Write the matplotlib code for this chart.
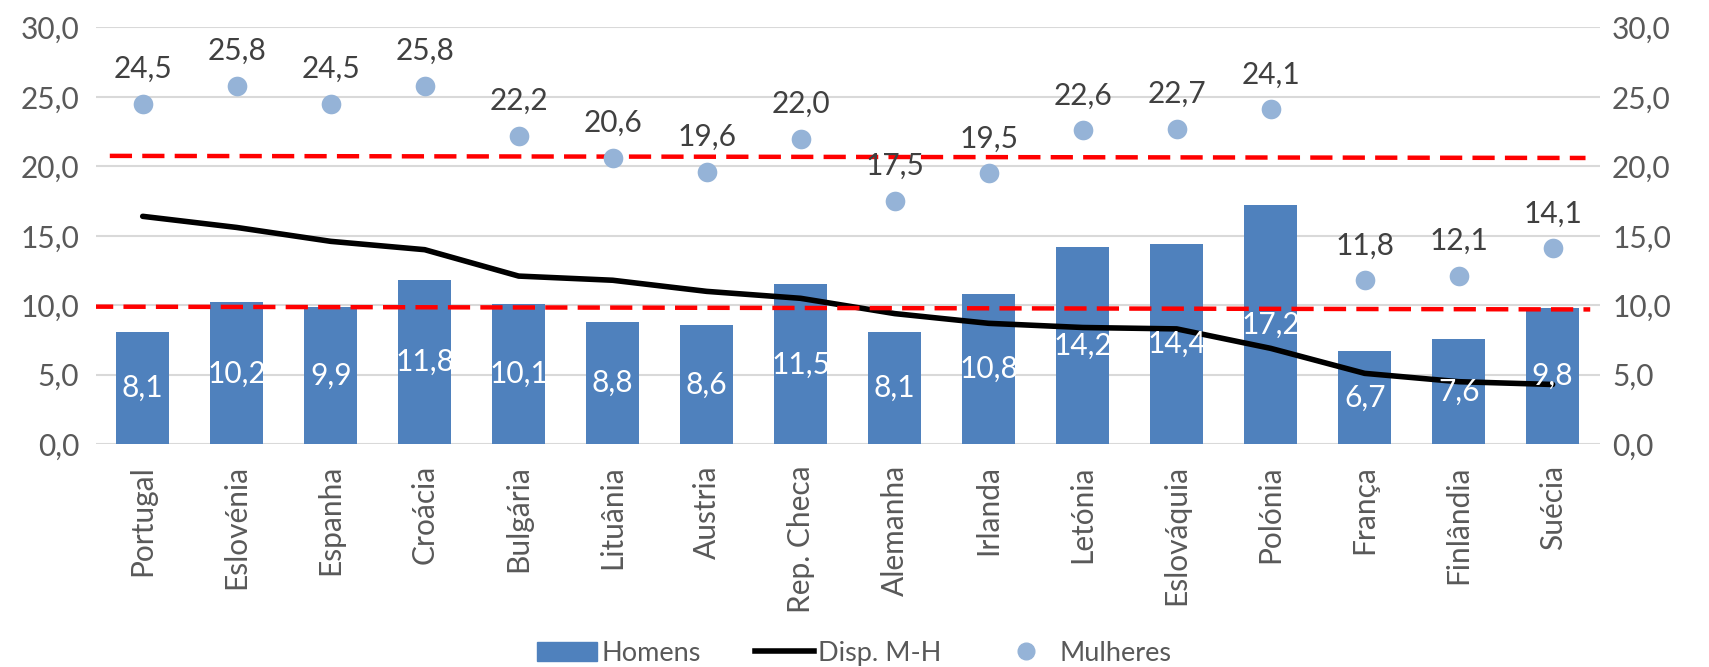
import matplotlib.pyplot as plt
from matplotlib.ticker import FuncFormatter, MultipleLocator
from matplotlib.lines import Line2D
from matplotlib.patches import Patch

# dados
paises = ['Portugal', 'Eslovénia', 'Espanha', 'Croácia', 'Bulgária', 'Lituânia',
          'Austria', 'Rep. Checa', 'Alemanha', 'Irlanda', 'Letónia', 'Eslováquia',
          'Polónia', 'França', 'Finlândia', 'Suécia']
homens = [8.1, 10.2, 9.9, 11.8, 10.1, 8.8, 8.6, 11.5, 8.1, 10.8, 14.2, 14.4, 17.2, 6.7, 7.6, 9.8]
mulheres = [24.5, 25.8, 24.5, 25.8, 22.2, 20.6, 19.6, 22.0, 17.5, 19.5, 22.6, 22.7, 24.1, 11.8, 12.1, 14.1]
disp_mh = [16.4, 15.6, 14.6, 14.0, 12.1, 11.8, 11.0, 10.5, 9.4, 8.7, 8.4, 8.3, 6.9, 5.1, 4.5, 4.3]

# linhas de referência (tracejado vermelho): valor à esquerda e à direita
ref_mulheres = [20.75, 20.6]
ref_homens = [9.9, 9.7]

plt.rcParams['font.family'] = ['Lato', 'DejaVu Sans']

cor_barra = '#4F81BD'
cor_ponto = '#95B3D7'
cor_texto = '#595959'
cor_grelha = '#D9D9D9'
fs = 21.5

fmt = lambda v: f'{v:.1f}'.replace('.', ',')

fig = plt.figure(figsize=(17.09, 6.67), dpi=100)
ax = fig.add_axes([0.056, 0.334, 0.880, 0.625])

x = list(range(len(paises)))

ax.bar(x, homens, width=0.57, color=cor_barra, zorder=2)
ax.plot(x, disp_mh, color='black', linewidth=4.0, zorder=3, solid_capstyle='round')
ax.scatter(x, mulheres, s=200, color=cor_ponto, zorder=4, linewidths=0)

# linhas tracejadas
ax.plot([-0.35, 15.35], ref_mulheres, color='#FF0000', linewidth=3.2, dashes=(5, 2.3), zorder=3)
ax.plot([-0.55, 15.4], ref_homens, color='#FF0000', linewidth=3.2, dashes=(5, 2.3), zorder=3)

# rótulos
for i in x:
    ax.text(i, homens[i] / 2, fmt(homens[i]), color='white', fontsize=fs,
            ha='center', va='center', zorder=5)
    ax.annotate(fmt(mulheres[i]), (i, mulheres[i]), xytext=(0, 15),
                textcoords='offset points', ha='center', va='bottom',
                fontsize=fs, color='#404040', zorder=5)

ax.set_xlim(-0.5, 15.5)
ax.set_ylim(0, 30)
ax.yaxis.set_major_locator(MultipleLocator(5))
ax.yaxis.set_major_formatter(FuncFormatter(lambda v, p: fmt(v)))
ax.grid(axis='y', color=cor_grelha, linewidth=1.5, zorder=0)
ax.set_axisbelow(True)
for s in ax.spines.values():
    s.set_visible(False)

ax.set_xticks(x)
ax.set_xticklabels(paises, rotation=90, fontsize=fs, color=cor_texto)
ax.tick_params(axis='x', length=0, pad=15)
ax.tick_params(axis='y', length=0, pad=12, labelsize=fs, labelcolor=cor_texto)

ax2 = ax.twinx()
ax2.set_ylim(0, 30)
ax2.yaxis.set_major_locator(MultipleLocator(5))
ax2.yaxis.set_major_formatter(FuncFormatter(lambda v, p: fmt(v)))
ax2.tick_params(axis='y', length=0, pad=9, labelsize=fs, labelcolor=cor_texto)
for s in ax2.spines.values():
    s.set_visible(False)

# legenda
handles = [Patch(color=cor_barra, label='Homens'),
           Line2D([], [], color='black', linewidth=4.0, label='Disp. M-H'),
           Line2D([], [], marker='o', linestyle='none', markersize=12,
                  markerfacecolor=cor_ponto, markeredgecolor=cor_ponto, label='Mulheres')]
fig.legend(handles=handles, loc='lower center', bbox_to_anchor=(0.5, -0.035), ncol=3,
           frameon=False, fontsize=19.5, labelcolor=cor_texto, handlelength=2.2,
           handletextpad=0.15, columnspacing=2.0)

fig.savefig('out.png', dpi=100)
